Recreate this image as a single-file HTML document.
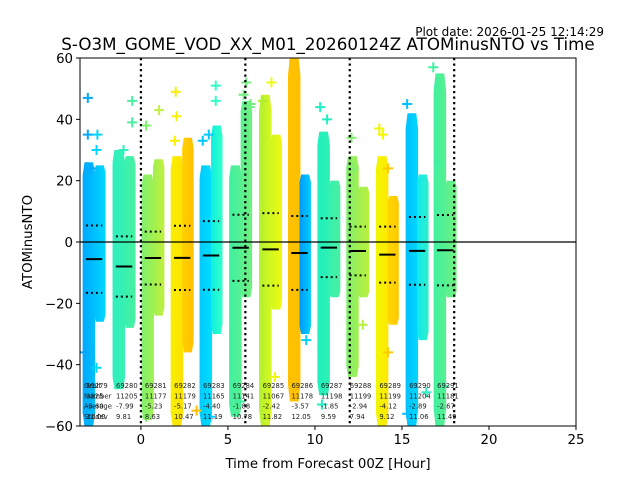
<!DOCTYPE html>
<html><head><meta charset="utf-8">
<style>
html,body{margin:0;padding:0;background:#fff;}
svg{display:block;font-family:"DejaVu Sans","Liberation Sans",sans-serif;}
</style></head>
<body>
<svg id="chart" width="640" height="480" viewBox="0 0 640 480" xmlns="http://www.w3.org/2000/svg">
<defs id="defs"></defs>
<rect width="640" height="480" fill="#fff"/>
<text x="604" y="36" font-size="12" text-anchor="end">Plot date: 2026-01-25 12:14:29</text>
<text x="328" y="50" font-size="16.7" text-anchor="middle">S-O3M_GOME_VOD_XX_M01_20260124Z ATOMinusNTO vs Time</text>
<g id="plot"></g>
<text x="328" y="468" font-size="13.3" text-anchor="middle">Time from Forecast 00Z [Hour]</text>
<text transform="translate(32,242) rotate(-90)" font-size="13.3" text-anchor="middle">ATOMinusNTO</text>
</svg>
<script>
const xTicks = [0, 5, 10, 15, 20, 25];
const yTicks = [-60, -40, -20, 0, 20, 40, 60];
const dayLines = [0, 6, 12, 18];
const orbitIds = ["69279","69280","69281","69282","69283","69284","69285","69286","69287","69288","69289","69290","69291"];
const orbitCounts = ["3825","11205","11177","11179","11165","11141","11067","11178","11198","11199","11199","11204","11181"];
const orbitCenters = [-2.69,-0.97,0.69,2.37,4.03,5.73,7.45,9.11,10.80,12.46,14.16,15.87,17.48];
const orbitMeans = [-5.6,-7.99,-5.23,-5.17,-4.40,-1.88,-2.42,-3.57,-1.85,-2.94,-4.12,-2.89,-2.67];
const orbitStds = [11.0,9.81,8.63,10.47,11.19,10.78,11.82,12.05,9.59,7.94,9.12,11.06,11.49];
const leftTops = [26,30,22,28,25,25,48,60,36,28,28,42,55];
const leftBottoms = [-60,-48,-58,-60,-60,-57,-60,-52,-50,-44,-60,-60,-60];
const rightTops = [25,28,27,34,38,46,35,22,20,18,15,22,20];
const rightBottoms = [-26,-28,-24,-36,-30,-18,-22,-30,-18,-18,-27,-32,-18];
const leftColorsA = ["#00a8ff","#30f0c0","#80f070","#f8f000","#00c8ff","#40f0a0","#b0f030","#ffc000","#20f0c0","#80f070","#f0f800","#00c0ff","#40f0a0"];
const leftColorsB = ["#00c0ff","#38f0b0","#a0f050","#ffe000","#00e0ff","#58f090","#d8f820","#ffc000","#30f0b0","#a0f050","#ffe800","#00d8ff","#58f090"];
const rightColorsA = ["#00c0ff","#38f0b0","#a0f050","#ffd000","#10f0e0","#58f090","#d0f820","#0098ff","#38f0b0","#a0f050","#ffd800","#10e8f0","#58f090"];
const rightColorsB = ["#00d8ff","#48f0a0","#c0f040","#ffc000","#30ffc8","#70f080","#f0f810","#00d0ff","#48f0a0","#b8f040","#ffc800","#30f0c8","#70f080"];
const outlierX = [-3.05,-3.05,-2.5,-2.55,-2.9,-0.5,-0.5,-1.0,1.05,0.3,2.0,2.05,1.95,3.9,4.3,4.3,3.55,6.05,5.9,6.25,6.3,7.0,7.5,8.8,10.3,10.7,12.1,12.2,13.7,13.9,14.2,15.3,16.8,17.1,-3.2,-2.55,0.3,2.0,3.2,4.0,5.7,7.7,9.5,10.4,12.75,14.2,15.3,16.4,17.4];
const outlierY = [47,35,35,30,24,46,39,30,43,38,49,41,33,35,51,46,33,52,48,44,45,46,52,59,44,40,34,24,37,35,24,45,57,26,-36,-41,-57,-55,-55,-57,-52,-44,-32,-53,-27,-36,-56,-49,-47];

const X0 = 80, X1 = 576, Y0 = 58, Y1 = 426;
const xMin = -3.5, xMax = 25, yMin = -60, yMax = 60;
function sx(v){ return X0 + (v - xMin) / (xMax - xMin) * (X1 - X0); }
function sy(v){ return Y1 - (v - yMin) / (yMax - yMin) * (Y1 - Y0); }
const NS = "http://www.w3.org/2000/svg";
const plot = document.getElementById("plot");
const defs = document.getElementById("defs");
function mk(tag, attrs, parent){
  const e = document.createElementNS(NS, tag);
  for (const k in attrs) e.setAttribute(k, attrs[k]);
  (parent || plot).appendChild(e);
  return e;
}
function grad(id, a, b){
  const g = mk("linearGradient", {id: id, x1: "0", y1: "0", x2: "1", y2: "0"}, defs);
  mk("stop", {offset: "0", "stop-color": a}, g);
  mk("stop", {offset: "1", "stop-color": b}, g);
}
function band(xa, xb, top, bot){
  const ya = sy(top), yb = sy(bot), h = yb - ya;
  const w = xb - xa, inset = w * 0.15;
  const t1 = ya + h * 0.05, b1 = yb - h * 0.05;
  return `M${xa+inset},${ya}H${xb-inset}L${xb},${t1}V${b1}L${xb-inset},${yb}H${xa+inset}L${xa},${b1}V${t1}Z`;
}
const cp = mk("clipPath", {id: "clip"}, defs);
mk("rect", {x: X0, y: Y0, width: X1 - X0, height: Y1 - Y0}, cp);
const data = mk("g", {"clip-path": "url(#clip)"});



const halfW = 0.66;
orbitIds.forEach((id, i) => {
  const c = orbitCenters[i];
  grad("gl" + i, leftColorsA[i], leftColorsB[i]);
  grad("gr" + i, rightColorsA[i], rightColorsB[i]);
  const l = mk("path", {d: band(sx(c - halfW), sx(c) + 1, leftTops[i], leftBottoms[i]), fill: "url(#gl" + i + ")"}, data);
  
  
  const r = mk("path", {d: band(sx(c), sx(c + halfW), rightTops[i], rightBottoms[i]), fill: "url(#gr" + i + ")"}, data);
  
  
});
outlierX.forEach((xv, j) => {
  let best = 0;
  orbitCenters.forEach((c, i) => { if (Math.abs(c - xv) < Math.abs(orbitCenters[best] - xv)) best = i; });
  const col = xv < orbitCenters[best] ? leftColorsA[best] : rightColorsB[best];
  const px = sx(xv), py = sy(outlierY[j]);
  const p = mk("path", {d: `M${px-5},${py}H${px+5}M${px},${py-5}V${py+5}`, stroke: col, "stroke-width": 2}, data);
  
  
});

const z = mk("line", {x1: X0, x2: X1, y1: sy(0), y2: sy(0), stroke: "#000", "stroke-width": 1.2});



orbitIds.forEach((id, i) => {
  const c = orbitCenters[i], m = orbitMeans[i], s = orbitStds[i];
  const ml = mk("line", {x1: sx(c - 0.47), x2: sx(c + 0.47), y1: sy(m), y2: sy(m), stroke: "#000", "stroke-width": 2});
  
  
  [m + s, m - s].forEach(v => {
    const d = mk("line", {x1: sx(c - 0.47), x2: sx(c + 0.47), y1: sy(v), y2: sy(v), stroke: "#000", "stroke-width": 2, "stroke-dasharray": "2,3"});
    
    
  });
  const t = mk("text", {x: sx(c) - 8, y: 388, "font-size": "6.8", fill: "#222"});
  
  
  [id, orbitCounts[i], orbitMeans[i].toFixed(2), orbitStds[i].toFixed(2)].forEach((s2, k) => {
    const ts = mk("tspan", {x: sx(c) - 8, dy: k === 0 ? 0 : 10.3}, t);
    ts.textContent = s2;
  });
});
const lab = mk("text", {x: 84, y: 388, "font-size": "6.8", fill: "#222"});


["Orbit", "Number", "Average", "Stddev"].forEach((s2, k) => {
  const ts = mk("tspan", {x: 84, dy: k === 0 ? 0 : 10.3}, lab);
  ts.textContent = s2;
});

dayLines.forEach(v => {
  const d = mk("line", {x1: sx(v), x2: sx(v), y1: Y0, y2: Y1, stroke: "#000", "stroke-width": 2.2, "stroke-dasharray": "2.2,3.3"});
  
  
});

const fr = mk("rect", {x: X0, y: Y0, width: X1 - X0, height: Y1 - Y0, fill: "none", stroke: "#000", "stroke-width": 1});



xTicks.forEach(v => {
  const t = mk("line", {x1: sx(v), x2: sx(v), y1: Y1, y2: Y1 + 4, stroke: "#000"});
  
  
  const l = mk("text", {x: sx(v), y: Y1 + 18, "font-size": "13.3", "text-anchor": "middle"});
  l.textContent = v;
  
  
});
yTicks.forEach(v => {
  const t = mk("line", {x1: X0 - 4, x2: X0, y1: sy(v), y2: sy(v), stroke: "#000"});
  
  
  const l = mk("text", {x: X0 - 7, y: sy(v) + 5, "font-size": "13.3", "text-anchor": "end"});
  l.textContent = v < 0 ? "\u2212" + Math.abs(v) : v;
  
  
});
</script>
</body></html>
